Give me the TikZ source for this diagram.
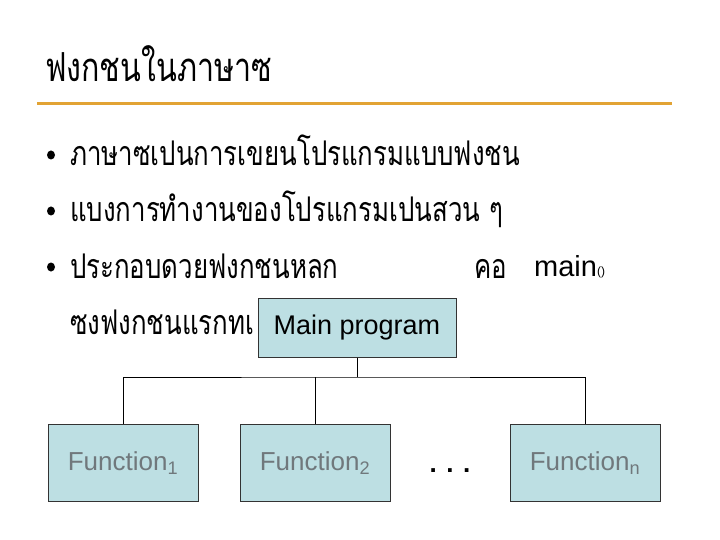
\documentclass[tikz,border=0pt]{standalone}
\usepackage{fontspec}
\setmainfont{Liberation Sans}
\newfontfamily\thaifont[Script=Thai]{Loma}
\usetikzlibrary{positioning}
\usetikzlibrary{shapes.geometric}

\definecolor{boxblue}{RGB}{189,223,227}
\definecolor{rulegold}{RGB}{226,163,52}
\definecolor{fungray}{RGB}{112,120,124}

% narrow Thai text
\newcommand{\narrowthai}[1]{\scalebox{0.76}[1]{#1}}

\tikzset{
  thaitext/.style={anchor=base west, inner sep=0pt, font=\thaifont\fontsize{34}{34}\selectfont},
  progbox/.style={draw=black!80, fill=boxblue, minimum width=198pt, minimum height=59pt, inner sep=0pt},
  funcbox/.style={draw=black!80, fill=boxblue, minimum width=150pt, minimum height=77pt, inner sep=0pt,
    text=fungray, font=\fontsize{26}{26}\selectfont},
  bulletdot/.style={ellipse, fill=black, inner sep=0pt, minimum width=8pt, minimum height=9pt}
}

\begin{document}
\begin{tikzpicture}[x=1pt, y=-1pt]
\useasboundingbox (0,0) rectangle (720,540);

% title
\node [thaitext, font=\thaifont\fontsize{40}{40}\selectfont] (title) at (45,82) {\narrowthai{ฟงกชนในภาษาซ}};
\draw[rulegold, line width=3pt] (37,104) -- (672,104);

% bullets
\node [bulletdot] (b1) at (51,155) {};
\node [thaitext] (t1) at (70,166) {\narrowthai{ภาษาซเปนการเขยนโปรแกรมแบบฟงชน}};
\node [bulletdot] (b2) at (51,211) {};
\node [thaitext] (t2) at (70,222) {\narrowthai{แบงการทำงานของโปรแกรมเปนสวน ๆ}};
\node [bulletdot] (b3) at (51,267) {};
\node [thaitext] (t3) at (70,278) {\narrowthai{ประกอบดวยฟงกชนหลก}};
\node [thaitext] (t3b) at (474,278) {\narrowthai{คอ}};
\node [anchor=base west, inner sep=0pt, font=\fontsize{29}{29}\selectfont] (mainfn) at (534,276)
  {main\raisebox{1pt}{\fontsize{12}{12}\selectfont()}};
\node [thaitext] (t4) at (70,334) {\narrowthai{ซงฟงกชนแรกทเ}};

% chart
\node [progbox, font=\fontsize{27}{27}\selectfont] (main) at (357,328) {Main program};
\node [funcbox] (f1) at (123,463) {Function\textsubscript{1}};
\node [funcbox] (f2) at (315,463) {Function\textsubscript{2}};
\node [funcbox] (fn) at (585,463) {Function\textsubscript{n}};
\node [anchor=base, inner sep=0pt, font=\bfseries\fontsize{26}{26}\selectfont] (dots) at (450,472) {. . .};

\coordinate (bus) at (357,377);
\draw (main.south) -- (bus);
\draw (f1.north) |- (bus) -| (fn.north);
\draw (f2.north) -- (f2.north |- bus);

\end{tikzpicture}
\end{document}
